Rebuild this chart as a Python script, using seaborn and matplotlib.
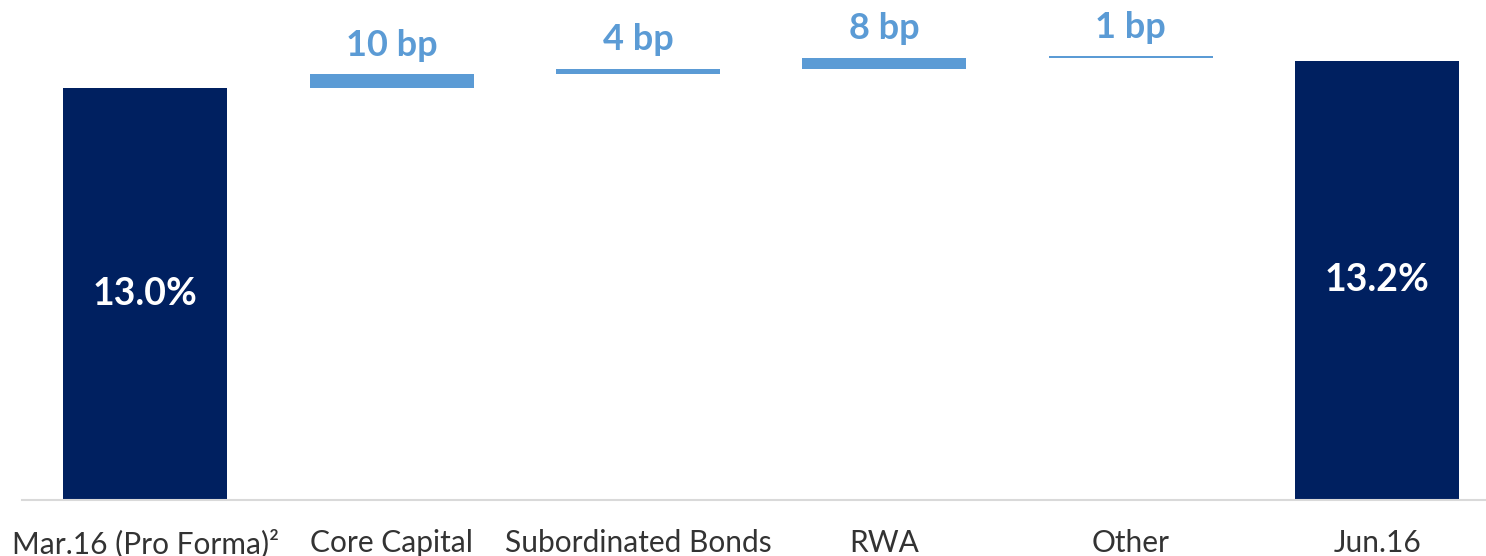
import matplotlib
matplotlib.use("Agg")
import matplotlib.pyplot as plt
import seaborn as sns

sns.set_theme(style="white")
plt.rcParams["font.family"] = ["Lato", "DejaVu Sans"]

# Capital ratio bridge, Mar.16 -> Jun.16
categories = ["Mar.16 (Pro Forma)²", "Core Capital", "Subordinated Bonds",
              "RWA", "Other", "Jun.16"]
start_ratio = 13.0          # %
end_ratio = 13.2            # %
steps_bp = [10, 4, 8, 1]    # basis-point contributions
total_labels = ["13.0%", "13.2%"]
step_labels = ["10 bp", "4 bp", "8 bp", "1 bp"]

NAVY = "#002060"
BLUE = "#5B9BD5"

# bar heights and bottoms for the waterfall
heights = [start_ratio] + [b / 100 for b in steps_bp] + [end_ratio]
bottoms = [0.0]
level = start_ratio
for b in steps_bp:
    bottoms.append(level)
    level += b / 100
bottoms.append(0.0)
colors = [NAVY] + [BLUE] * len(steps_bp) + [NAVY]

fig = plt.figure(figsize=(14.86, 5.56), dpi=100)
ax = fig.add_axes([22 / 1486, 56 / 556, 1 - 22 / 1486, 1 - 56 / 556])

sns.barplot(x=categories, y=heights, hue=categories, palette=colors,
            legend=False, width=0.666, saturation=1, ax=ax)

# lift the step bars to float on the running total
for i, cont in enumerate(ax.containers):
    for patch in cont:
        patch.set_y(bottoms[i])
        patch.set_linewidth(0)

ax.set_ylim(10.0, 13.641)
ax.set_xlim(-0.5, 5.442)

# labels inside total bars
for i, lab in zip([0, len(categories) - 1], total_labels):
    ax.text(i, (10.0 + heights[i]) / 2, lab, ha="center", va="center",
            color="white", fontsize=27, fontweight="bold")

# labels above step bars
for k, lab in enumerate(step_labels):
    i = k + 1
    top = bottoms[i] + heights[i]
    ax.annotate(lab, (i, top), xytext=(0, 13.5), textcoords="offset points",
                ha="center", va="baseline", color=BLUE, fontsize=26,
                fontweight="bold")

for side in ["left", "right", "top"]:
    ax.spines[side].set_visible(False)
ax.spines["bottom"].set_color("#d9d9d9")
ax.spines["bottom"].set_linewidth(1.5)
ax.set_yticks([])
ax.tick_params(axis="x", length=0, pad=21, labelsize=21.5, labelcolor="#333333")
ax.set_xlabel("")
ax.set_ylabel("")

fig.savefig("out.png", dpi=100)
